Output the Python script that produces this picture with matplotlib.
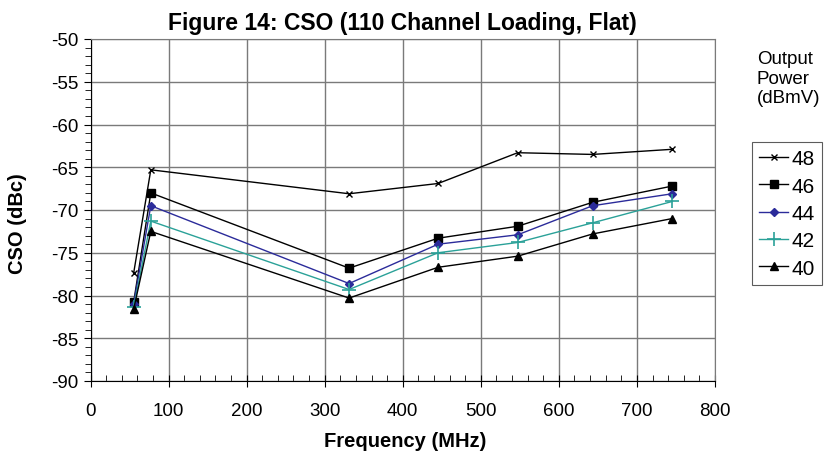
import numpy as np
import matplotlib.pyplot as plt
from matplotlib.ticker import MultipleLocator

plt.rcParams['font.family'] = ['Liberation Sans', 'DejaVu Sans']
plt.rcParams['axes.unicode_minus'] = False

# частоты каналов, МГц
freq = [55.25, 77.25, 331.25, 445.25, 547.25, 643.25, 745.25]

# CSO для разных уровней выходной мощности, дБн
cso_48 = [-77.4, -65.3, -68.1, -66.9, -63.3, -63.5, -62.9]
cso_46 = [-80.8, -68.0, -76.8, -73.3, -71.9, -69.1, -67.2]
cso_44 = [-81.0, -69.5, -78.6, -74.0, -72.9, -69.5, -68.1]
cso_42 = [-81.4, -71.3, -79.3, -75.0, -73.8, -71.5, -69.0]
cso_40 = [-81.6, -72.5, -80.3, -76.7, -75.4, -72.8, -71.0]

series_labels = ['48', '46', '44', '42', '40']
series_values = [cso_48, cso_46, cso_44, cso_42, cso_40]

fig = plt.figure(figsize=(8.25, 4.52), dpi=100)
ax = fig.add_axes([90.5/825, 1-382/452, (715-90.5)/825, (382-40)/452])

styles = [
    dict(color='black', marker='x', ms=5, mew=1.0),
    dict(color='black', marker='s', ms=6),
    dict(color='#2b2b9a', marker='D', ms=4.5),
    dict(color='#2aa198', marker='+', ms=10, mew=1.2),
    dict(color='black', marker='^', ms=6),
]

for lab, vals, st in zip(series_labels, series_values, styles):
    ax.plot(freq, vals, lw=1.0, label=lab, **st)

ax.set_xlim(0, 800)
ax.set_ylim(-90, -50)
ax.xaxis.set_major_locator(MultipleLocator(100))
ax.xaxis.set_minor_locator(MultipleLocator(20))
ax.yaxis.set_major_locator(MultipleLocator(5))
ax.yaxis.set_minor_locator(MultipleLocator(1))
ax.grid(True, which='major', color='#7a7a7a', lw=1.0)
ax.set_axisbelow(True)

ax.tick_params(axis='x', which='major', direction='inout', length=8, labelsize=13.5, pad=11)
ax.tick_params(axis='x', which='minor', direction='in', length=4)
ax.tick_params(axis='y', which='major', direction='out', length=5, labelsize=13.5, pad=4)
ax.tick_params(axis='y', which='minor', direction='out', length=4)

for s in ['top', 'right']:
    ax.spines[s].set_color('#7a7a7a')

ax.set_xlabel('Frequency (MHz)', fontsize=14.5, fontweight='bold')
ax.set_ylabel('CSO (dBc)', fontsize=14.5, fontweight='bold')
ax.xaxis.set_label_coords(0.504, -0.146)
ax.yaxis.set_label_coords(-0.102, 0.462)
ax.set_title('Figure 14: CSO (110 Channel Loading, Flat)', fontsize=16.5, fontweight='bold', pad=7)

leg = ax.legend(loc='upper left', bbox_to_anchor=(752/825, 1-143/452), bbox_transform=fig.transFigure,
                frameon=True, fancybox=False, edgecolor='#333333', fontsize=15,
                handlelength=1.4, handletextpad=0.15, borderpad=0.35, labelspacing=0.4,
                borderaxespad=0)
leg.get_frame().set_linewidth(0.8)

fig.text(757/825, 1-79/452, 'Output\nPower\n(dBmV)', ha='left', va='center', fontsize=13.5, linespacing=1.2)

fig.savefig('out.png', dpi=100)
